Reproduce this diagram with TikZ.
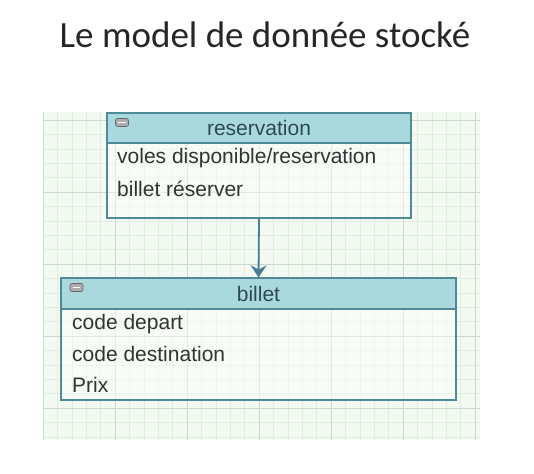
\documentclass[tikz,border=0pt]{standalone}
\usepackage{fontspec}
\setmainfont{Liberation Sans}
\newfontfamily\titlefont{Carlito}
\usetikzlibrary{arrows.meta,positioning,calc}
\definecolor{gridbg}{HTML}{F2FAF2}
\definecolor{gridminor}{HTML}{E3ECE3}
\definecolor{gridmajor}{HTML}{CFD8CF}
\definecolor{headfill}{HTML}{A9D9DD}
\definecolor{boxline}{HTML}{4F8B96}
\definecolor{arrowline}{HTML}{4C7E98}
\definecolor{headtext}{HTML}{2C4A50}
\definecolor{attrtext}{HTML}{333333}
\begin{document}
\begin{tikzpicture}[x=1pt,y=-1pt,
  classhead/.style={draw=boxline,line width=1.3pt,fill=headfill,inner sep=0pt,
    font=\fontsize{21}{23}\selectfont,text=headtext},
  classbody/.style={draw=boxline,line width=1.3pt,fill=white,fill opacity=0.45,
    text opacity=1,inner sep=0pt},
  attr/.style={anchor=west,inner sep=0pt,font=\fontsize{21}{23}\selectfont,text=attrtext},
  minusicon/.style={draw=gray!80!black,fill=gray!65,rounded corners=2pt,line width=0.6pt,
    minimum width=13pt,minimum height=8pt,inner sep=0pt}]
  \useasboundingbox (0,0) rectangle (534,473);
  \fill[white] (0,0) rectangle (534,473);
  % grid
  \fill[gridbg] (43,112) rectangle (480,440);
  \foreach \gx in {0,...,30} {
    \draw[gridminor,line width=0.5pt] ({43+14.4*\gx},112) -- ({43+14.4*\gx},440);
  }
  \foreach \gy in {0,...,22} {
    \draw[gridminor,line width=0.5pt] (43,{120+14.4*\gy}) -- (480,{120+14.4*\gy});
  }
  \foreach \gx in {0,...,6} {
    \draw[gridmajor,line width=0.8pt] ({43+72*\gx},112) -- ({43+72*\gx},440);
  }
  \foreach \gy in {0,...,4} {
    \draw[gridmajor,line width=0.8pt] (43,{120+72*\gy}) -- (480,{120+72*\gy});
  }
  %
  \node[anchor=base,font=\titlefont\fontsize{37}{42}\selectfont,text=black!85] (title) at (265,48) {Le model de donnée stocké};
  %
  \node[classbody,minimum width=304pt,minimum height=75pt] (resvbody) at (259,180.5) {};
  \node[classhead,minimum width=304pt,minimum height=30pt] (resvhead) at (259,128) {reservation};
  \node[minusicon] (resvicon) at (122,122.5) {};
  \draw[white,line width=1.4pt] ($(resvicon.west)+(3,0)$) -- ($(resvicon.east)+(-3,0)$);
  \node[attr] (r1) at (117,158) {voles disponible/reservation};
  \node[attr] (r2) at (117,189) {billet réserver};
  %
  \node[classbody,minimum width=395pt,minimum height=91pt] (billetbody) at (258.5,354.5) {};
  \node[classhead,minimum width=395pt,minimum height=31pt] (billethead) at (258.5,293.5) {billet};
  \node[minusicon] (billeticon) at (76.5,287.5) {};
  \draw[white,line width=1.4pt] ($(billeticon.west)+(3,0)$) -- ($(billeticon.east)+(-3,0)$);
  \node[attr] (b1) at (72,324) {code depart};
  \node[attr] (b2) at (72,354) {code destination};
  \node[attr] (b3) at (72,385) {Prix};
  %
  \draw[arrowline,line width=1.8pt,-{Stealth[width=16pt,length=12pt,inset=4pt]}] (resvbody.south) -- (billethead.north);
\end{tikzpicture}
\end{document}
